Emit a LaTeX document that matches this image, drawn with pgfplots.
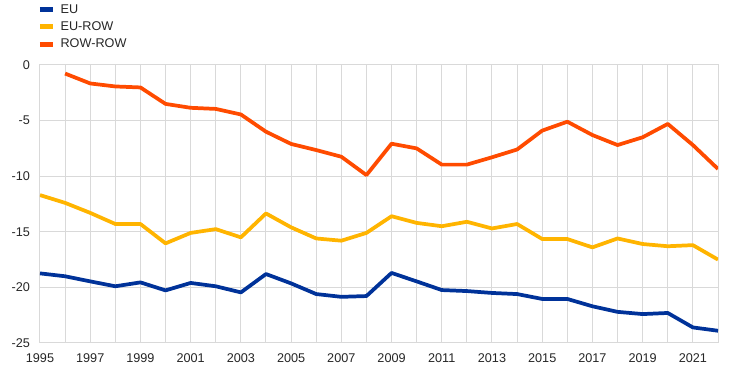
\documentclass[border=0pt]{standalone}
\usepackage{fontspec}
\setmainfont{Liberation Sans}
\usepackage{pgfplots}
\pgfplotsset{compat=1.18}
\definecolor{eublue}{HTML}{003299}
\definecolor{euyellow}{HTML}{FFB400}
\definecolor{eured}{HTML}{FF4B00}
\definecolor{gridgray}{HTML}{D9D9D9}
\begin{document}
\begin{tikzpicture}
\begin{axis}[
  scale only axis, width=508.5pt, height=208.5pt,
  xmin=1995, xmax=2022, ymin=-25, ymax=0,
  xtick={1995,1997,1999,2001,2003,2005,2007,2009,2011,2013,2015,2017,2019,2021},
  xticklabels={1995,1997,1999,2001,2003,2005,2007,2009,2011,2013,2015,2017,2019,2021},
  minor xtick={1996,1998,2000,2002,2004,2006,2008,2010,2012,2014,2016,2018,2020,2022},
  ytick={-25,-20,-15,-10,-5,0},
  yticklabels={-25,-20,-15,-10,-5,0},
  grid=both,
  major grid style={gridgray, line width=0.75pt},
  minor grid style={gridgray, line width=0.75pt},
  axis line style={gridgray, line width=0.75pt},
  major tick length=0pt, minor tick length=0pt,
  tick label style={font=\fontsize{9.5}{11}\selectfont, text=black!85},
  xticklabel style={yshift=-4.5pt},
  yticklabel style={xshift=-4pt},
  legend style={at={(0,1)}, anchor=north west, yshift=47.7pt, xshift=-2.25pt, draw=none, fill=none,
    inner sep=0pt, font=\fontsize{9.5}{12}\selectfont, text=black!85, row sep=0.8pt, column sep=2pt},
  legend cell align=left,
  legend image code/.code={\draw[#1, line width=3.75pt] (0pt,0pt) -- (9.75pt,0pt);},
  every axis plot/.append style={line width=2.8pt, line join=round},
]
\coordinate (O) at (rel axis cs:0,0);
\addplot[eublue] coordinates {
(1995,-18.74) (1996,-19.0) (1997,-19.46) (1998,-19.9) (1999,-19.55) (2000,-20.27)
(2001,-19.6) (2002,-19.9) (2003,-20.45) (2004,-18.8) (2005,-19.64) (2006,-20.6)
(2007,-20.85) (2008,-20.78) (2009,-18.7) (2010,-19.46) (2011,-20.24) (2012,-20.33)
(2013,-20.5) (2014,-20.6) (2015,-21.04) (2016,-21.04) (2017,-21.7) (2018,-22.2)
(2019,-22.4) (2020,-22.3) (2021,-23.6) (2022,-23.9)};
\addlegendentry{EU}
\addplot[euyellow] coordinates {
(1995,-11.7) (1996,-12.4) (1997,-13.3) (1998,-14.3) (1999,-14.3) (2000,-16.04)
(2001,-15.1) (2002,-14.76) (2003,-15.5) (2004,-13.35) (2005,-14.6) (2006,-15.6)
(2007,-15.8) (2008,-15.1) (2009,-13.6) (2010,-14.2) (2011,-14.5) (2012,-14.1)
(2013,-14.7) (2014,-14.3) (2015,-15.65) (2016,-15.65) (2017,-16.4) (2018,-15.6)
(2019,-16.1) (2020,-16.3) (2021,-16.2) (2022,-17.5)};
\addlegendentry{EU-ROW}
\addplot[eured] coordinates {
(1996,-0.77) (1997,-1.66) (1998,-1.93) (1999,-2.02) (2000,-3.5)
(2001,-3.85) (2002,-3.95) (2003,-4.45) (2004,-6.0) (2005,-7.1) (2006,-7.65)
(2007,-8.25) (2008,-9.9) (2009,-7.08) (2010,-7.5) (2011,-8.96) (2012,-8.96)
(2013,-8.3) (2014,-7.6) (2015,-5.9) (2016,-5.1) (2017,-6.3) (2018,-7.2)
(2019,-6.5) (2020,-5.3) (2021,-7.2) (2022,-9.35)};
\addlegendentry{ROW-ROW}
\end{axis}
\pgfresetboundingbox
\path[use as bounding box] (O) ++(-30pt,-22.5pt) rectangle ++(558pt,279.75pt);
\end{tikzpicture}
\end{document}
